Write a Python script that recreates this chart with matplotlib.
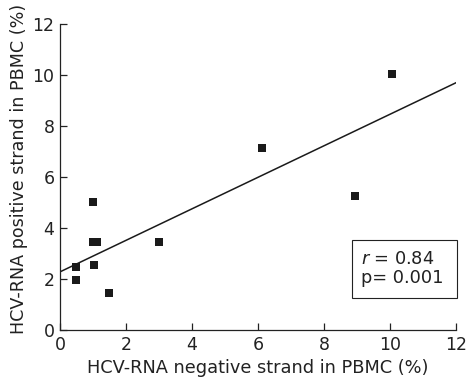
import numpy as np
import matplotlib.pyplot as plt
from matplotlib.patches import Rectangle

# data
neg_strand = [0.48, 0.48, 1.01, 1.0, 1.13, 1.04, 1.49, 2.99, 6.12, 8.94, 10.05]
pos_strand = [2.47, 1.95, 5.0, 3.47, 3.47, 2.55, 1.46, 3.47, 7.14, 5.25, 10.02]
fit_intercept = 2.28
fit_slope = 0.618
xticks = [0, 2, 4, 6, 8, 10, 12]
yticks = [0, 2, 4, 6, 8, 10, 12]

fig = plt.figure(figsize=(4.67, 3.84), dpi=100)
ax = fig.add_axes([0.1285, 0.1406, 0.848, 0.797])

ax.scatter(neg_strand, pos_strand, marker='s', s=30, color='#1a1a1a', zorder=3, linewidths=0)
xl = np.array([0, 12])
ax.plot(xl, fit_intercept + fit_slope * xl, color='#1a1a1a', lw=1.1)

ax.set_xlim(0, 12)
ax.set_ylim(0, 12)
ax.set_xticks(xticks)
ax.set_yticks(yticks)
ax.spines['top'].set_visible(False)
ax.spines['right'].set_visible(False)
for s in ['left', 'bottom']:
    ax.spines[s].set_linewidth(0.9)
    ax.spines[s].set_color('#222222')
ax.tick_params(direction='in', length=5, width=0.9, labelsize=12.5, colors='#222222', pad=4)
ax.set_xlabel('HCV-RNA negative strand in PBMC (%)', fontsize=12.8, color='#222222', labelpad=4)
ax.set_ylabel('HCV-RNA positive strand in PBMC (%)', fontsize=12.6, color='#222222')
ax.yaxis.set_label_coords(-0.08, 0.526)

# stats box
ax.add_patch(Rectangle((0.737, 0.106), 0.265, 0.188, transform=ax.transAxes, fill=True,
                       fc='white', ec='#222222', lw=0.8, clip_on=False, zorder=4))
ax.text(0.76, 0.2, '$r$ = 0.84\np= 0.001', transform=ax.transAxes, fontsize=12.8,
        ha='left', va='center', linespacing=1.05, color='#222222', zorder=5)

fig.savefig('out.png')
